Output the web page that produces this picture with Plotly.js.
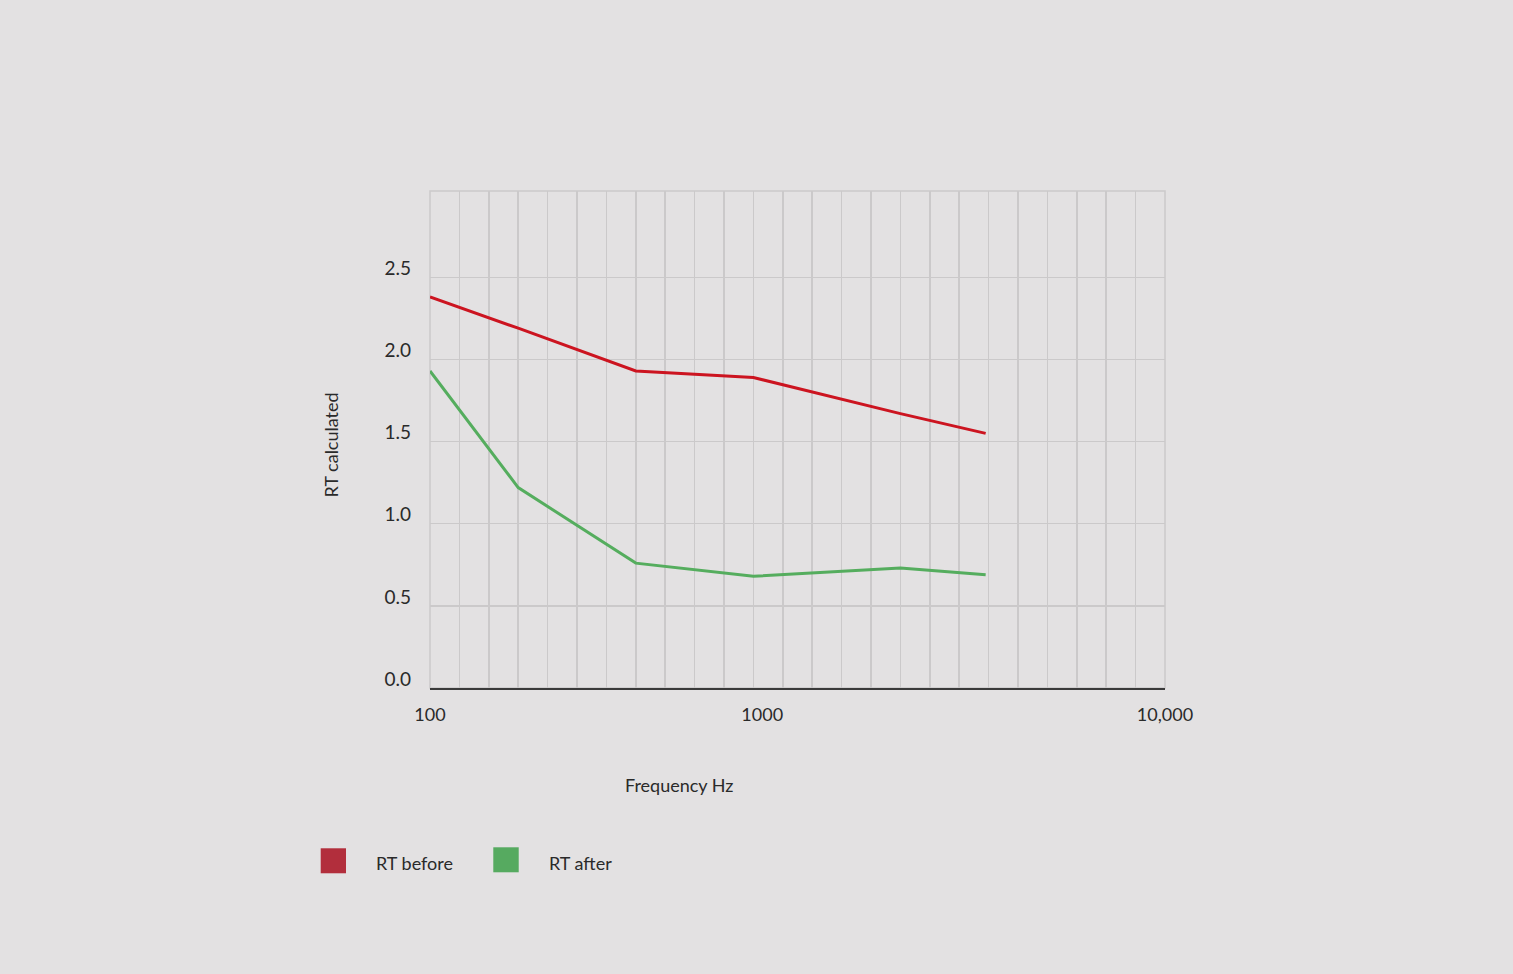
<!DOCTYPE html>
<html>
<head>
<meta charset="utf-8">
<script src="https://cdn.plot.ly/plotly-3.0.1.min.js"></script>
<style>
  html, body { margin: 0; padding: 0; background: #e3e1e2; }
  #chart { width: 1513px; height: 974px; }
</style>
</head>
<body>
<div id="chart"></div>
<script>
// position of each frequency band along the drawn frequency scale (grid steps, 0 = 100 Hz, 25 = 10,000 Hz)
var bandPos = [0, 3, 7, 11, 16, 18.9];
var rtBefore = [2.38, 2.19, 1.93, 1.89, 1.67, 1.55];
var rtAfter = [1.93, 1.22, 0.76, 0.68, 0.73, 0.69];

var freqTickPos = [0, 11.3, 25];
var freqTickText = ["100", "1000", "10,000"];
var rtTicks = [0, 0.5, 1.0, 1.5, 2.0, 2.5];

var font = "Lato, 'Open Sans', sans-serif";
var txt = "#2a2a2a";
var grid = "#cbc9ca";

function plotLines(tag){

    const data = [{
        x: bandPos,
        y: rtBefore,
        name: "RT before",
        mode: "lines",
        line: {color: "#cc1420", width: 3},
        showlegend: false
    }, {
        x: bandPos,
        y: rtAfter,
        name: "RT after",
        mode: "lines",
        line: {color: "#55ad5e", width: 3},
        showlegend: false
    }];

    const layout = {
        width: 1513,
        height: 974,
        margin: {l: 430, r: 348, t: 191, b: 286},
        paper_bgcolor: "#e3e1e2",
        plot_bgcolor: "#e3e1e2",
        font: {family: font, size: 18, color: txt},
        showlegend: false,
        xaxis: {
            range: [0, 25],
            tickmode: "array",
            tickvals: freqTickPos,
            ticktext: freqTickText,
            showgrid: false,
            zeroline: false,
            showline: true,
            linecolor: "#3a3a3a",
            linewidth: 2,
            ticks: "",
            ticklabelstandoff: 9,
            tickfont: {family: font, size: 18, color: txt},
            minor: {tickmode: "linear", tick0: 0, dtick: 1, showgrid: true, gridcolor: grid, gridwidth: 1.5, ticks: ""}
        },
        yaxis: {
            range: [0, 3.025],
            tickmode: "array",
            tickvals: rtTicks,
            tickformat: ".1f",
            showgrid: true,
            gridcolor: grid,
            gridwidth: 1.5,
            zeroline: false,
            showline: false,
            ticks: "",
            ticklabelstandoff: 18,
            ticklabelshift: -9,
            tickfont: {family: font, size: 19, color: txt}
        },
        shapes: [
            {type: "rect", xref: "paper", yref: "paper", x0: 0, x1: 1, y0: 0, y1: 1,
             line: {color: grid, width: 1.5}, layer: "below"},
            {type: "rect", xref: "paper", yref: "paper", x0: -0.1487, x1: -0.1143, y0: -0.3728, y1: -0.3225,
             fillcolor: "#b22e3c", line: {width: 0}},
            {type: "rect", xref: "paper", yref: "paper", x0: 0.0861, x1: 0.1207, y0: -0.3708, y1: -0.3205,
             fillcolor: "#56aa60", line: {width: 0}}
        ],
        annotations: [
            {text: "RT calculated", xref: "paper", yref: "paper", x: -0.1347, y: 0.49,
             xanchor: "center", yanchor: "middle", textangle: -90, showarrow: false,
             font: {family: font, size: 18, color: txt}},
            {text: "Frequency Hz", xref: "paper", yref: "paper", x: 0.3385, y: -0.195,
             xanchor: "center", yanchor: "middle", showarrow: false,
             font: {family: font, size: 18, color: txt}},
            {text: "RT before", xref: "paper", yref: "paper", x: -0.0762, y: -0.3515,
             xanchor: "left", yanchor: "middle", showarrow: false,
             font: {family: font, size: 18, color: txt}},
            {text: "RT after", xref: "paper", yref: "paper", x: 0.1596, y: -0.3515,
             xanchor: "left", yanchor: "middle", showarrow: false,
             font: {family: font, size: 18, color: txt}}
        ]
    };
    Plotly.newPlot(tag, data, layout, {displayModeBar: false, staticPlot: true});
}

plotLines("chart");
</script>
</body>
</html>
